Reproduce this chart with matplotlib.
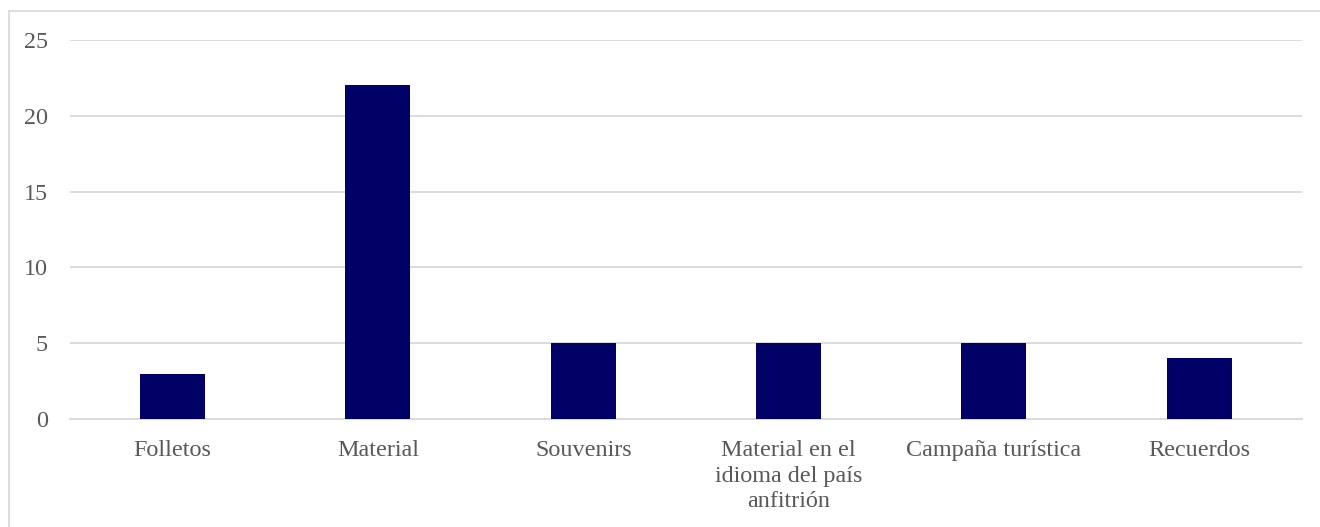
import matplotlib
matplotlib.use("Agg")
import matplotlib.pyplot as plt
from matplotlib.lines import Line2D
import numpy as np

categories = ["Folletos", "Material", "Souvenirs",
              "Material en el\nidioma del país\nanfitrión",
              "Campaña turística", "Recuerdos"]
values = [3, 22, 5, 5, 5, 4]
y_ticks = [0, 5, 10, 15, 20, 25]

bar_color = "#000066"
text_color = "#595959"
grid_color = "#d9d9d9"

plt.rcParams["font.family"] = ["Liberation Serif", "DejaVu Serif"]

fig = plt.figure(figsize=(13.2, 5.27), dpi=100)
ax = fig.add_axes([0.053, 0.2049, 0.9333, 0.7192])

x = np.arange(len(categories))
ax.bar(x, values, width=0.317, color=bar_color, zorder=3)

ax.set_xlim(-0.5, len(categories) - 0.5)
ax.set_ylim(0, 25)
ax.set_yticks(y_ticks)
ax.set_xticks(x)
ax.set_xticklabels(categories, linespacing=1.3)

ax.yaxis.grid(True, color=grid_color, linewidth=1.3, zorder=0)
ax.tick_params(axis="both", length=0, labelsize=17.4, labelcolor=text_color)
ax.tick_params(axis="y", pad=16)
ax.tick_params(axis="x", pad=15)
for side in ["top", "right", "left"]:
    ax.spines[side].set_visible(False)
ax.spines["bottom"].set_color(grid_color)
ax.spines["bottom"].set_linewidth(1.3)

# outer frame of the chart area (top and left edges)
fig.add_artist(Line2D([0.0065, 0.0065], [0.0, 0.979], color=grid_color,
                      linewidth=1.2, transform=fig.transFigure))
fig.add_artist(Line2D([0.0065, 1.0], [0.979, 0.979], color=grid_color,
                      linewidth=1.2, transform=fig.transFigure))

fig.savefig("out.png", dpi=100)
